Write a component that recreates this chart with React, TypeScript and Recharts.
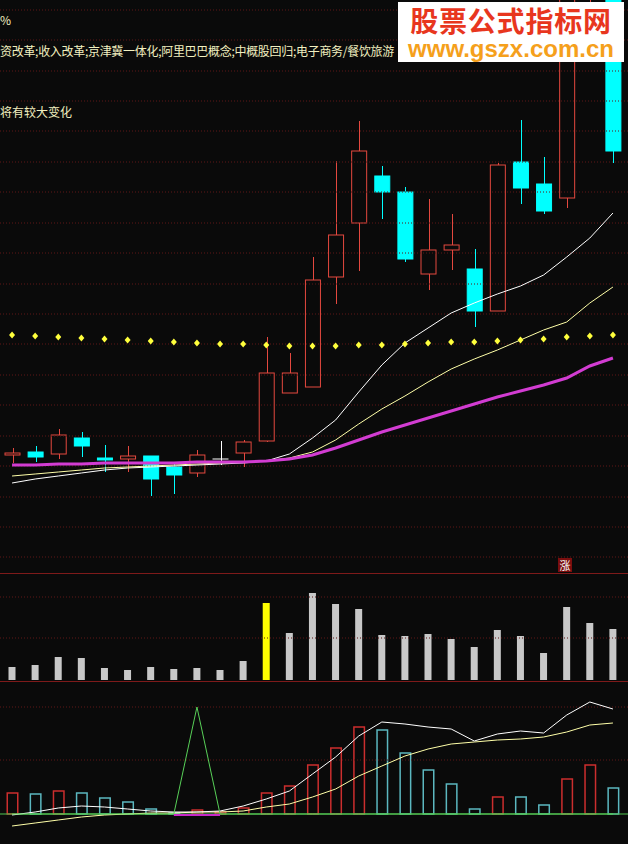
import { ComposedChart, Bar, Line, XAxis, YAxis, ReferenceLine } from "recharts";

// 27 trading days, left to right
const DAYS = ["01", "02", "03", "04", "05", "06", "07", "08", "09", "10", "11", "12", "13", "14",
  "15", "16", "17", "18", "19", "20", "21", "22", "23", "24", "25", "26", "27"];

const OPEN = [6.18, 6.21, 6.19, 6.35, 6.15, 6.14, 6.17, 6.06, 6.0, 6.14, 6.2, 6.32, 6.8, 6.86,
  7.96, 8.5, 8.97, 8.81, 7.99, 8.23, 8.04, 7.62, 9.11, 8.89, 8.75, 10.95, 10.95];
const CLOSE = [6.2, 6.16, 6.38, 6.27, 6.13, 6.17, 5.94, 5.98, 6.18, 6.14, 6.31, 7.0, 7.0, 7.93,
  8.38, 9.22, 8.81, 8.14, 8.23, 8.28, 7.62, 9.08, 8.85, 8.62, 10.85, 11.5, 9.22];
const HIGH = [6.25, 6.27, 6.44, 6.41, 6.28, 6.27, 6.17, 6.11, 6.23, 6.32, 6.33, 7.36, 7.2, 8.16,
  9.12, 9.52, 9.07, 8.86, 8.74, 8.59, 8.24, 9.1, 9.53, 9.16, 10.95, 11.8, 11.0];
const LOW = [6.1, 6.11, 6.14, 6.16, 6.01, 6.01, 5.77, 5.79, 5.96, 6.08, 6.06, 6.31, 6.8, 6.86,
  7.69, 8.02, 8.54, 8.11, 7.83, 8.03, 7.46, 7.62, 8.69, 8.59, 8.65, 10.68, 9.1];

const MA_WHITE = [5.9, 5.94, 5.97, 6.0, 6.03, 6.05, 6.06, 6.07, 6.08, 6.09, 6.1, 6.12, 6.19, 6.35,
  6.53, 6.81, 7.08, 7.3, 7.45, 7.6, 7.7, 7.79, 7.87, 7.98, 8.16, 8.35, 8.6];
const MA_YELLOW = [5.97, 5.99, 6.01, 6.03, 6.05, 6.06, 6.07, 6.08, 6.09, 6.1, 6.11, 6.12, 6.15, 6.21,
  6.33, 6.49, 6.64, 6.77, 6.91, 7.04, 7.14, 7.23, 7.33, 7.43, 7.51, 7.7, 7.86];
const MA_PURPLE = [6.08, 6.08, 6.09, 6.09, 6.1, 6.1, 6.1, 6.1, 6.11, 6.11, 6.11, 6.12, 6.14, 6.18,
  6.25, 6.33, 6.41, 6.48, 6.55, 6.62, 6.69, 6.76, 6.82, 6.88, 6.95, 7.07, 7.15];
const DOTS = [7.38, 7.37, 7.36, 7.35, 7.34, 7.33, 7.32, 7.31, 7.3, 7.29, 7.29, 7.28, 7.27, 7.27,
  7.27, 7.28, 7.28, 7.29, 7.3, 7.31, 7.31, 7.32, 7.33, 7.34, 7.36, 7.37, 7.38];
const PRICE_GRID = [10.63, 10.33, 10.02, 9.72, 9.42, 9.11, 8.81, 8.5, 8.2, 7.89, 7.59, 7.29, 6.98,
  6.68, 6.37, 6.07, 5.76, 5.46, 5.16];

const VOLUME = [13, 15, 23, 22, 12, 10, 13, 11, 12, 10, 19, 77, 47, 87, 76, 71, 45, 44, 46, 41,
  33, 50, 44, 27, 73, 57, 51];
const VOL_HIGHLIGHT = 11;
const VOL_GRID = [42, 83];

const IND_BAR = [21, 20, 23, 21, 16, 12, 5, 1, 4, 2, 6, 21, 28, 49, 66, 87, 84, 61, 44, 30, 5, 17,
  17, 9, 35, 49, 26];
const IND_UP = [true, false, true, false, false, false, false, false, true, true, true, true, true,
  true, true, true, false, false, false, false, false, true, false, false, true, true, false];
const IND_WHITE = [-1, 2, 6, 8, 7, 5, 3, 2, 2, 3, 8, 15, 23, 40, 57, 78, 92, 90, 87, 85, 73, 80, 83,
  81, 99, 112, 105];
const IND_YELLOW = [-12, -9, -6, -3, -1, 0, 1, 1, 2, 2, 3, 7, 10, 17, 25, 38, 48, 58, 65, 70, 72,
  74, 75, 77, 82, 89, 91];
const IND_GREEN = [0, 0, 0, 0, 0, 0, 0, 0, 107, 0, 0, 0, 0, 0, 0, 0, 0, 0, 0, 0, 0, 0, 0, 0, 0, 0, 0];
const IND_PURPLE = [null, null, null, null, null, null, null, -1, -1, -1, null, null, null, null,
  null, null, null, null, null, null, null, null, null, null, null, null, null];
const IND_GRID = [54, 107];

const BG = "#0a0a0a";
const RED = "#e4483f";
const CYAN = "#00ffff";
const GRID = "#5e1616";
const SEP = "#7e1a1a";
const W = 628;
const PAD = { left: 0.5, right: 3.5 };

const rows = DAYS.map((day, i) => ({
  day,
  open: OPEN[i],
  close: CLOSE[i],
  high: HIGH[i],
  low: LOW[i],
  range: [LOW[i], HIGH[i]],
  ma5: MA_WHITE[i],
  ma10: MA_YELLOW[i],
  ma30: MA_PURPLE[i],
  dots: DOTS[i],
  vol: VOLUME[i],
  hot: i === VOL_HIGHLIGHT,
  bar: IND_BAR[i],
  up: IND_UP[i],
  w: IND_WHITE[i],
  y: IND_YELLOW[i],
  g: IND_GREEN[i],
  p: IND_PURPLE[i],
}));

const Candle = (props: any) => {
  const { x, y, width, height, payload } = props;
  const top0 = Math.min(y, y + height);
  const h = Math.abs(height);
  const { open, close, high, low } = payload;
  const k = h / (high - low);
  const yOf = (v: number) => top0 + (high - v) * k;
  const cx = Math.round(x + width / 2) + 0.5;
  const flat = open === close;
  const up = close > open;
  const color = flat ? "#ffffff" : up ? RED : CYAN;
  const bTop = yOf(Math.max(open, close));
  const bBot = yOf(Math.min(open, close));
  return (
    <g>
      <line x1={cx} x2={cx} y1={top0} y2={bTop} stroke={color} />
      <line x1={cx} x2={cx} y1={bBot} y2={top0 + h} stroke={color} />
      {flat ? (
        <line x1={x} x2={x + width} y1={bTop} y2={bTop} stroke={color} />
      ) : (
        <rect x={x + 0.5} y={bTop} width={width - 1} height={Math.max(1, bBot - bTop)}
          fill={up ? "none" : CYAN} stroke={color} />
      )}
    </g>
  );
};

const VolBar = (props: any) => {
  const { x, y, width, height, payload } = props;
  return <rect x={x} y={y} width={width} height={height} fill={payload.hot ? "#ffff00" : "#c8c8c8"} />;
};

const HollowBar = (props: any) => {
  const { x, y, width, height, payload } = props;
  return (
    <rect x={x + 0.75} y={y} width={width - 1.5} height={Math.max(0.5, height)} fill="none"
      stroke={payload.up ? "#cc2e2e" : "#5cb8c0"} strokeWidth={1.5} />
  );
};

const Diamond = (props: any) => {
  const { cx, cy, index } = props;
  if (cx == null || cy == null) return <g key={index} />;
  return (
    <path key={index} fill="#ffff3c"
      d={`M${cx} ${cy - 3.5}L${cx + 3} ${cy}L${cx} ${cy + 3.5}L${cx - 3} ${cy}Z`} />
  );
};

const gridLines = (vals: number[]) =>
  vals.map((v) => <ReferenceLine key={v} y={v} stroke={GRID} strokeDasharray="1 2" />);

const textStyle = {
  position: "absolute" as const,
  left: 0,
  color: "#f2f0c0",
  fontFamily: "'Noto Sans CJK SC', sans-serif",
  fontSize: 12,
  lineHeight: "14px",
  whiteSpace: "nowrap" as const,
};

export default function App() {
  return (
    <div style={{ position: "fixed", left: 0, top: 0, width: W, height: 844, background: BG, overflow: "hidden" }}>
      {/* price panel */}
      <div style={{ position: "absolute", left: 0, top: 0 }}>
        <ComposedChart width={W} height={573} data={rows} margin={{ top: 0, right: 0, bottom: 0, left: 0 }}>
          <XAxis dataKey="day" hide padding={PAD} />
          <YAxis hide domain={[5, 10.73]} allowDataOverflow />
          {gridLines(PRICE_GRID)}
          <Bar dataKey="range" barSize={16} shape={<Candle />} isAnimationActive={false} />
          <Line dataKey="ma5" stroke="#ffffff" strokeWidth={1} dot={false} activeDot={false} isAnimationActive={false} />
          <Line dataKey="ma10" stroke="#ffffa8" strokeWidth={1} dot={false} activeDot={false} isAnimationActive={false} />
          <Line dataKey="ma30" stroke="#d23cd2" strokeWidth={3} dot={false} activeDot={false} isAnimationActive={false} />
          <Line dataKey="dots" stroke="none" dot={(p: any) => <Diamond key={p.index} {...p} />}
            activeDot={false} isAnimationActive={false} />
        </ComposedChart>
      </div>

      {/* volume panel */}
      <div style={{ position: "absolute", left: 0, top: 573 }}>
        <ComposedChart width={W} height={107} data={rows} margin={{ top: 0, right: 0, bottom: 0, left: 0 }}>
          <XAxis dataKey="day" hide padding={PAD} />
          <YAxis hide domain={[0, 107]} />
          {gridLines(VOL_GRID)}
          <Bar dataKey="vol" barSize={7} shape={<VolBar />} isAnimationActive={false} />
        </ComposedChart>
      </div>

      {/* indicator panel */}
      <div style={{ position: "absolute", left: 0, top: 681 }}>
        <ComposedChart width={W} height={163} data={rows} margin={{ top: 0, right: 0, bottom: 0, left: 0 }}>
          <XAxis dataKey="day" hide padding={PAD} />
          <YAxis hide domain={[-30, 133]} />
          {gridLines(IND_GRID)}
          <ReferenceLine y={0} stroke="#50c850" />
          <Bar dataKey="bar" barSize={12} shape={<HollowBar />} isAnimationActive={false} />
          <Line dataKey="y" stroke="#ffffa8" strokeWidth={1} dot={false} activeDot={false} isAnimationActive={false} />
          <Line dataKey="w" stroke="#ffffff" strokeWidth={1} dot={false} activeDot={false} isAnimationActive={false} />
          <Line dataKey="g" stroke="#58d058" strokeWidth={1} dot={false} activeDot={false} isAnimationActive={false} />
          <Line dataKey="p" stroke="#c828c8" strokeWidth={2} dot={false} activeDot={false} isAnimationActive={false} />
        </ComposedChart>
      </div>

      {/* panel separators */}
      <div style={{ position: "absolute", left: 0, top: 573, width: W, height: 1, background: SEP }} />
      <div style={{ position: "absolute", left: 0, top: 681, width: W, height: 1, background: SEP }} />

      {/* header texts */}
      <div style={{ ...textStyle, top: 13 }}>%</div>
      <div style={{ ...textStyle, top: 44, letterSpacing: -0.3 }}>资改革;收入改革;京津冀一体化;阿里巴巴概念;中概股回归;电子商务/餐饮旅游</div>
      <div style={{ ...textStyle, top: 105 }}>将有较大变化</div>

      <div style={{
        position: "absolute", left: 558, top: 558, width: 14, height: 14, background: "#7a0e0e",
        color: "#ffffff", fontSize: 11, lineHeight: "14px", textAlign: "center",
        fontFamily: "'Noto Sans CJK SC', sans-serif",
      }}>涨</div>

      {/* site badge */}
      <div style={{ position: "absolute", left: 398, top: 2, width: 226, height: 60, background: "#ffffff", textAlign: "center" }}>
        <div style={{
          marginTop: 4, color: "#e8361e", fontWeight: 700, fontSize: 28, lineHeight: "29px",
          letterSpacing: 0.8, fontFamily: "'Noto Sans CJK SC', sans-serif",
        }}>股票公式指标网</div>
        <div style={{
          marginTop: 2, color: "#f5a01c", fontWeight: 700, fontSize: 24, lineHeight: "24px",
          fontFamily: "'Liberation Sans', Arial, sans-serif",
        }}>www.gszx.com.cn</div>
      </div>
    </div>
  );
}
